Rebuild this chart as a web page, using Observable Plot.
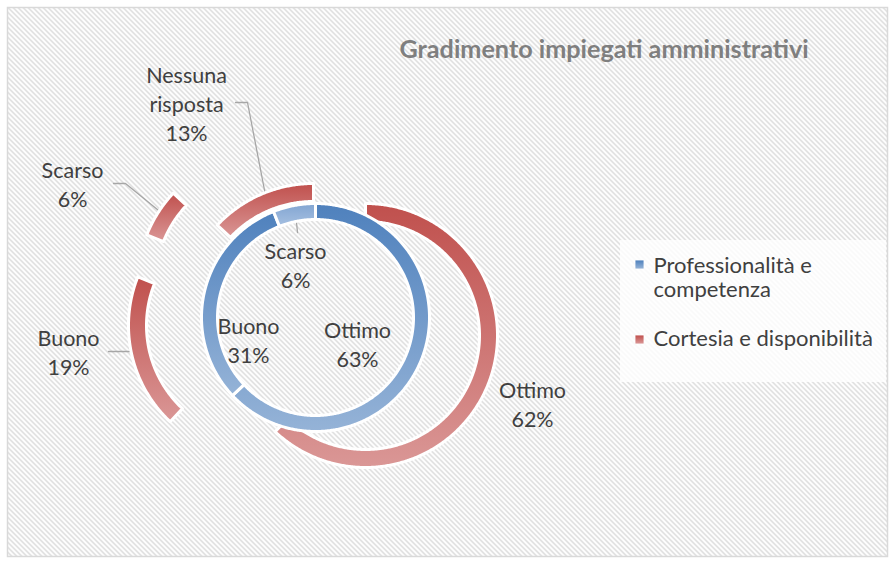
<!DOCTYPE html>
<html><head><meta charset="utf-8">
<script src="https://cdn.jsdelivr.net/npm/d3@7"></script>
<script src="https://cdn.jsdelivr.net/npm/@observablehq/plot@0.6"></script>
<style>body{margin:0;background:#fff}</style>
</head><body><div id="chart"></div>
<script>
// ---- data ----
const title = "Gradimento impiegati amministrativi";
const seriesNames = ["Professionalità e competenza", "Cortesia e disponibilità"];
const innerCategories = ["Ottimo", "Buono", "Scarso"];
const innerValues = [63, 31, 6];
const outerCategories = ["Ottimo", "Buono", "Scarso", "Nessuna risposta"];
const outerValues = [62, 19, 6, 13];

// ---- layout / style ----
const W = 890, H = 562;
const FONT = "Lato, 'Liberation Sans', sans-serif";
const LABEL_FS = 21.5, LABEL_LH = 1.372;
const LEGEND_FS = 22, LEGEND_LH = 1.136;
const TITLE_FS = 25.2;
const center = [315, 317];
const innerRadii = [98, 114];
const outerRadii = [114, 132];
const outerOffsets = [[50, 18], [-55, 8], [-46, -34], [-2, -2]];
// x centre and first-line baseline of each data label
const innerLabelPos = [[357, 337], [248, 333], [295, 258]];
const outerLabelPos = [[532, 397], [68, 345], [72, 177], [186, 82]];
const leaders = [
  [[108, 351], [136, 351]],
  [[113, 183], [125, 183], [163, 214]],
  [[235, 102], [247, 102], [266, 200]],
  [[295, 212], [297, 232]]
];
const ringColors = {inner: ["#4F81BD", "#95B3D7"], outer: ["#C0504D", "#DA9796"]};
const sliceColorOverride = {"inner-2": ["#82A5D2", "#A6C0E1"]};
const legendBox = {x1: 620, x2: 886, y1: 240, y2: 382};
const legendItems = [{x: 639, y: 264, tx: 653, base: 272}, {x: 639, y: 339, tx: 653, base: 345}];
const titlePos = {x: 399, base: 57};
const HATCH = {period: 5, band: 2, color: "#DADADA"};

// ---- geometry from data ----
function ring(values, radii, offsets, name) {
  const total = d3.sum(values);
  let a = 0;
  const pts = [];
  values.forEach((v, i) => {
    const a0 = a, a1 = a + v / total * 360; a = a1;
    const [dx, dy] = offsets ? offsets[i] : [0, 0];
    const cx = center[0] + dx, cy = center[1] + dy;
    const n = Math.max(2, Math.ceil((a1 - a0) / 0.5));
    const id = `${name}-${i}`;
    const push = (r, k) => {
      const t = (a0 + (a1 - a0) * k / n) * Math.PI / 180;
      pts.push({x: cx + r * Math.sin(t), y: cy - r * Math.cos(t), id, fill: `url(#g-${id})`});
    };
    for (let k = 0; k <= n; k++) push(radii[1], k);
    for (let k = n; k >= 0; k--) push(radii[0], k);
  });
  return pts;
}
const slicePts = [
  ...ring(outerValues, outerRadii, outerOffsets, "outer"),
  ...ring(innerValues, innerRadii, null, "inner")
];
const topFromBase = (base, fs, lh) => base - 0.71 * lh * fs;
const labels = [
  ...innerCategories.map((c, i) => ({text: `${c}\n${innerValues[i]}%`, x: innerLabelPos[i][0], y: topFromBase(innerLabelPos[i][1], LABEL_FS, LABEL_LH)})),
  ...outerCategories.map((c, i) => ({text: `${c}\n${outerValues[i]}%`, x: outerLabelPos[i][0], y: topFromBase(outerLabelPos[i][1], LABEL_FS, LABEL_LH)}))
];
const leaderPts = leaders.flatMap((l, j) => l.map(([x, y]) => ({x, y, j})));
const legend = seriesNames.map((s, i) => ({name: s, ...legendItems[i], ty: topFromBase(legendItems[i].base, LEGEND_FS, LEGEND_LH), fill: `url(#g-legend-${i})`}));

const plot = Plot.plot({
  width: W, height: H, margin: 0,
  x: {domain: [0, W], range: [0, W], axis: null},
  y: {domain: [0, H], range: [0, H], axis: null},
  color: {type: "identity"},
  style: {background: "white", fontFamily: FONT},
  marks: [
    Plot.frame({fill: "url(#hatch)", insetLeft: 7, insetTop: 7, insetRight: 3, insetBottom: 6}),
    Plot.frame({stroke: "#D9D9D9", strokeWidth: 1.5, insetLeft: 7, insetTop: 7, insetRight: 3, insetBottom: 6}),
    Plot.line(leaderPts, {x: "x", y: "y", z: "j", stroke: "#A6A6A6", strokeWidth: 1.3}),
    Plot.line(slicePts, {x: "x", y: "y", z: "id", fill: "fill", stroke: "white", strokeWidth: 3, curve: "linear-closed"}),
    Plot.text(labels, {x: "x", y: "y", text: "text", lineWidth: 5, lineAnchor: "top", textAnchor: "middle",
      fontSize: LABEL_FS, lineHeight: LABEL_LH, fill: "#404040"}),
    Plot.text([title], {x: () => titlePos.x, y: () => titlePos.base - 0.71 * TITLE_FS, text: d => d, textAnchor: "start", lineAnchor: "top",
      fontSize: TITLE_FS, fontWeight: "bold", fill: "#7F7F7F"}),
    Plot.rect([legendBox], {x1: "x1", x2: "x2", y1: "y1", y2: "y2", fill: "white", fillOpacity: 0.8}),
    Plot.dot(legend, {x: "x", y: "y", symbol: "square", r: 4.6, fill: "fill"}),
    Plot.text(legend, {x: "tx", y: "ty", text: "name", lineWidth: 13, textAnchor: "start", lineAnchor: "top",
      fontSize: LEGEND_FS, lineHeight: LEGEND_LH, fill: "#404040"})
  ]
});

// ---- defs: pixel hatch pattern + gradients ----
const defs = d3.select(plot).insert("defs", ":first-child");
const P = HATCH.period;
const pat = defs.append("pattern").attr("id", "hatch").attr("patternUnits", "userSpaceOnUse")
  .attr("width", P).attr("height", P);
pat.append("rect").attr("width", P).attr("height", P).attr("fill", "white");
for (let yy = 0; yy < P; yy++) for (let xx = 0; xx < P; xx++) {
  if ((((xx - yy) % P) + P) % P < HATCH.band)
    pat.append("rect").attr("x", xx).attr("y", yy).attr("width", 1).attr("height", 1)
      .attr("fill", HATCH.color).attr("shape-rendering", "crispEdges");
}
function grad(id, [c0, c1]) {
  const g = defs.append("linearGradient").attr("id", id).attr("x1", 0).attr("y1", 0).attr("x2", 0).attr("y2", 1);
  g.append("stop").attr("offset", 0).attr("stop-color", c0);
  g.append("stop").attr("offset", 1).attr("stop-color", c1);
}
outerValues.forEach((v, i) => grad(`g-outer-${i}`, sliceColorOverride[`outer-${i}`] || ringColors.outer));
innerValues.forEach((v, i) => grad(`g-inner-${i}`, sliceColorOverride[`inner-${i}`] || ringColors.inner));
grad("g-legend-0", ringColors.inner);
grad("g-legend-1", ringColors.outer);

document.getElementById("chart").appendChild(plot);
</script>
</body></html>
